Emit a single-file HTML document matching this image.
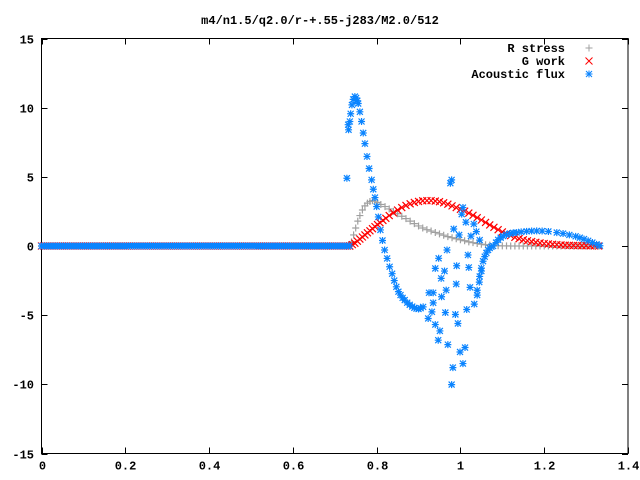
<!DOCTYPE html>
<html><head><meta charset="utf-8"><style>
body{margin:0;background:#fff}
svg{display:block}
text{font-family:"Liberation Mono",monospace;font-weight:bold;font-size:12px;fill:#000}
</style></head><body>
<svg id="chart" width="640" height="480" viewBox="0 0 640 480" xmlns="http://www.w3.org/2000/svg">
<rect width="640" height="480" fill="#fff"/>
<text x="320" y="24" text-anchor="middle">m4/n1.5/q2.0/r-+.55-j283/M2.0/512</text>
<g id="axes"></g>
<g id="marks"></g>
<g id="legend">
<text x="565" y="52" text-anchor="end">R stress</text>
<text x="565" y="65" text-anchor="end">G work</text>
<text x="565" y="78" text-anchor="end">Acoustic flux</text>
</g>
</svg>
<script>
const xTicks=[0,0.2,0.4,0.6,0.8,1,1.2,1.4];
const xTickLabels=["0","0.2","0.4","0.6","0.8","1","1.2","1.4"];
const yTicks=[-15,-10,-5,0,5,10,15];
const yTickLabels=["-15","-10","-5","0","5","10","15"];
const baseX=[0,0.005,0.01,0.015,0.02,0.025,0.03,0.035,0.04,0.045,0.05,0.055,0.06,0.065,0.07,0.075,0.08,0.085,0.09,0.095,0.1,0.105,0.11,0.115,0.12,0.125,0.13,0.135,0.14,0.145,0.15,0.155,0.16,0.165,0.17,0.175,0.18,0.185,0.19,0.195,0.2,0.205,0.21,0.215,0.22,0.225,0.23,0.235,0.24,0.245,0.25,0.255,0.26,0.265,0.27,0.275,0.28,0.285,0.29,0.295,0.3,0.305,0.31,0.315,0.32,0.325,0.33,0.335,0.34,0.345,0.35,0.355,0.36,0.365,0.37,0.375,0.38,0.385,0.39,0.395,0.4,0.405,0.41,0.415,0.42,0.425,0.43,0.435,0.44,0.445,0.45,0.455,0.46,0.465,0.47,0.475,0.48,0.485,0.49,0.495,0.5,0.505,0.51,0.515,0.52,0.525,0.53,0.535,0.54,0.545,0.55,0.555,0.56,0.565,0.57,0.575,0.58,0.585,0.59,0.595,0.6,0.605,0.61,0.615,0.62,0.625,0.63,0.635,0.64,0.645,0.65,0.655,0.66,0.665,0.67,0.675,0.68,0.685,0.69,0.695,0.7,0.705,0.71,0.715,0.72,0.725,0.73,0.735];
const baseY=[0,0,0,0,0,0,0,0,0,0,0,0,0,0,0,0,0,0,0,0,0,0,0,0,0,0,0,0,0,0,0,0,0,0,0,0,0,0,0,0,0,0,0,0,0,0,0,0,0,0,0,0,0,0,0,0,0,0,0,0,0,0,0,0,0,0,0,0,0,0,0,0,0,0,0,0,0,0,0,0,0,0,0,0,0,0,0,0,0,0,0,0,0,0,0,0,0,0,0,0,0,0,0,0,0,0,0,0,0,0,0,0,0,0,0,0,0,0,0,0,0,0,0,0,0,0,0,0,0,0,0,0,0,0,0,0,0,0,0,0,0,0,0,0,0,0,0,0];
const rX=[0.736,0.74,0.745,0.75,0.755,0.76,0.766,0.772,0.778,0.784,0.79,0.796,0.802,0.81,0.82,0.83,0.84,0.85,0.86,0.87,0.88,0.89,0.9,0.91,0.92,0.93,0.94,0.95,0.96,0.97,0.98,0.99,1.0,1.01,1.02,1.03,1.04,1.05,1.06,1.07,1.08,1.09,1.1,1.11,1.12,1.13,1.14,1.15,1.16,1.17,1.18,1.19,1.2,1.21,1.22,1.23,1.24,1.25,1.26,1.27,1.28,1.29,1.3,1.31,1.32,1.33];
const rY=[0,0.3,0.8,1.3,1.8,2.2,2.6,2.9,3.1,3.22,3.28,3.25,3.15,3.0,2.85,2.68,2.5,2.33,2.15,1.98,1.8,1.62,1.45,1.3,1.18,1.08,0.98,0.88,0.78,0.68,0.6,0.52,0.45,0.38,0.3,0.24,0.18,0.13,0.09,0.06,0.04,0.02,0.01,0.01,0,0,0,0,0,0,0,0,0,0,0,0,0,0,0,0,0,0,0,0,0,0];
const gX=[0.736,0.742,0.748,0.754,0.76,0.766,0.772,0.778,0.784,0.79,0.796,0.802,0.808,0.815,0.822,0.83,0.84,0.85,0.86,0.87,0.88,0.89,0.9,0.91,0.92,0.93,0.94,0.95,0.96,0.97,0.98,0.99,1.0,1.01,1.02,1.03,1.04,1.05,1.06,1.07,1.08,1.09,1.1,1.11,1.12,1.13,1.14,1.15,1.16,1.17,1.18,1.19,1.2,1.21,1.22,1.23,1.24,1.25,1.26,1.27,1.28,1.29,1.3,1.31,1.32,1.33];
const gY=[0,0.1,0.2,0.35,0.5,0.65,0.8,0.95,1.1,1.25,1.4,1.55,1.68,1.85,2.0,2.2,2.4,2.6,2.78,2.93,3.05,3.15,3.22,3.27,3.28,3.28,3.25,3.2,3.12,3.02,2.9,2.78,2.65,2.52,2.38,2.22,2.05,1.88,1.7,1.52,1.35,1.18,1.02,0.88,0.75,0.63,0.53,0.45,0.38,0.32,0.27,0.22,0.18,0.15,0.12,0.1,0.08,0.06,0.05,0.04,0.03,0.02,0.02,0.01,0.01,0];
const aX=[0.729,0.732,0.733,0.736,0.738,0.741,0.744,0.748,0.751,0.754,0.756,0.76,0.764,0.768,0.772,0.777,0.782,0.788,0.792,0.796,0.8,0.804,0.809,0.814,0.819,0.825,0.831,0.837,0.842,0.847,0.852,0.857,0.862,0.867,0.873,0.879,0.885,0.89,0.895,0.9,0.905,0.911,1.04,1.046,1.05,1.054,1.058,1.062,1.066,1.07,1.074,1.078,1.085,1.09,1.096,1.102,1.11,1.118,1.126,1.134,1.145,1.158,1.17,1.182,1.195,1.21,1.23,1.245,1.26,1.275,1.285,1.295,1.305,1.315,1.325,1.333,
0.979,0.976,1.006,1.003,1.013,1.032,1.038,0.984,0.997,1.025,1.046,0.968,0.948,0.94,0.962,0.991,1.018,1.02,1.05,0.954,0.99,0.966,1.045,1.023,1.04,0.925,0.935,0.955,0.935,0.932,0.964,0.988,1.033,1.015,0.994,0.94,0.951,0.947,0.97,1.011,0.999,1.006,0.982,0.979,0.923];
const aY=[4.9,8.77,8.4,9.0,9.56,10.2,10.6,10.8,10.7,10.5,10.3,9.7,9.0,8.17,7.4,6.47,5.6,4.78,4.1,3.5,2.85,2.1,1.16,0.4,-0.29,-0.9,-1.5,-2.0,-2.5,-2.95,-3.3,-3.55,-3.75,-3.91,-4.1,-4.25,-4.38,-4.47,-4.52,-4.55,-4.5,-4.4,-3.2,-2.2,-1.6,-1.1,-0.77,-0.5,-0.29,-0.15,-0.05,0.0,0.25,0.45,0.6,0.72,0.82,0.9,0.95,0.97,1.02,1.06,1.08,1.09,1.08,1.05,0.97,0.9,0.8,0.7,0.6,0.5,0.38,0.25,0.12,0.02,
4.78,4.54,2.78,2.3,1.72,1.59,1.04,1.23,0.8,0.72,0.43,-0.29,-0.89,-1.62,-1.81,-1.43,-0.65,-1.55,-1.81,-2.34,-2.75,-3.19,-2.61,-2.99,-3.55,-3.38,-3.38,-3.67,-4.11,-4.76,-4.81,-4.95,-4.2,-4.59,-5.6,-5.68,-6.14,-6.81,-7.13,-7.34,-7.66,-8.5,-8.79,-10.02,-5.24];

const L=41.5,R=628,T=38.5,B=453.5;
const xMin=0,xMax=1.4,yMin=-15,yMax=15;
function sx(v){return L+(v-xMin)/(xMax-xMin)*(R-L);}
function sy(v){return B-(v-yMin)/(yMax-yMin)*(B-T);}
const NS="http://www.w3.org/2000/svg";
function mk(tag,attrs,parent){const e=document.createElementNS(NS,tag);for(const k in attrs)e.setAttribute(k,attrs[k]);parent.appendChild(e);return e;}
const axes=document.getElementById('axes');
const frame=mk('rect',{x:L,y:T,width:R-L,height:B-T,fill:'none',stroke:'#000','stroke-width':1},axes);


xTicks.forEach((t,i)=>{
  const x=Math.round(sx(t))+0.5;
  const tk=mk('path',{d:`M${x} ${B}v-6M${x} ${T}v6`,stroke:'#000','stroke-width':1},axes);
  
  
  const lb=mk('text',{x:x,y:B+16,'text-anchor':'middle'},axes);
  lb.textContent=xTickLabels[i];
  
  
});
yTicks.forEach((t,i)=>{
  const y=Math.round(sy(t))+0.5;
  const tk=mk('path',{d:`M${L} ${y}h6M${R} ${y}h-6`,stroke:'#000','stroke-width':1},axes);
  
  
  const lb=mk('text',{x:34,y:y+4,'text-anchor':'end'},axes);
  lb.textContent=yTickLabels[i];
  
  
});
const marks=document.getElementById('marks');
function plus(x,y){return `M${x-3.5} ${y}h7M${x} ${y-3.5}v7`;}
function cross(x,y){return `M${x-3.5} ${y-3.5}l7 7M${x-3.5} ${y+3.5}l7 -7`;}
function star(x,y){return plus(x,y)+`M${x-3} ${y-3}l6 6M${x-3} ${y+3}l6 -6`;}
function series(xs,ys,shape,color,name){
  let d='';
  for(let i=0;i<xs.length;i++)d+=shape(sx(xs[i]),sy(ys[i]));
  const p=mk('path',{d:d,stroke:color,'stroke-width':1.2,fill:'none'},marks);
  
  
}
series(baseX.concat(rX),baseY.concat(rY),plus,'#a0a0a0','series-r-stress');
series(baseX.concat(gX),baseY.concat(gY),cross,'#ff0000','series-g-work');
series(baseX.concat(aX),baseY.concat(aY),star,'#0a84ff','series-acoustic-flux');
const lg=document.getElementById('legend');
const k1=mk('path',{d:plus(589,48),stroke:'#a0a0a0',fill:'none'},lg);


const k2=mk('path',{d:cross(589,61),stroke:'#ff0000',fill:'none'},lg);


const k3=mk('path',{d:star(589,74),stroke:'#0a84ff',fill:'none'},lg);


</script>
</body></html>
